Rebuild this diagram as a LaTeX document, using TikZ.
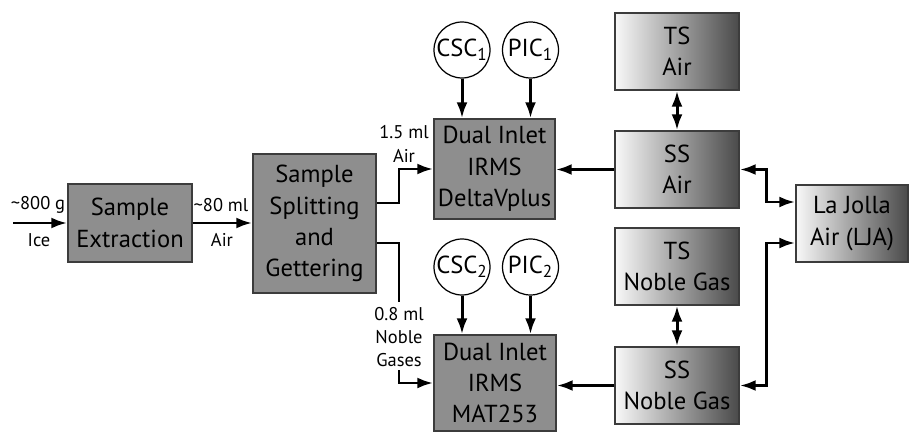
\documentclass[tikz,border=0pt]{standalone}
\usepackage{fontspec}
\setmainfont{PT Sans}
\usepackage{tikz}
\usetikzlibrary{arrows.meta}
\definecolor{boxgray}{HTML}{8E8E8E}
\definecolor{boxline}{HTML}{3C3C3C}
\definecolor{shadelight}{HTML}{F8F8F8}
\definecolor{shadedark}{HTML}{4A4A4A}
\tikzset{
    every node/.style={inner sep=0pt, align=center,
    	font=\fontsize{14}{17.8}\selectfont}
}
\tikzset{
    box/.style={rectangle, draw=boxline, line width=0.85pt, fill=boxgray},
    stdbox/.style={rectangle, draw=boxline, line width=0.85pt,
        left color=shadelight, right color=shadedark,
        minimum width=2.48cm, minimum height=1.54cm},
    ref/.style={circle, draw=black, line width=0.7pt, fill=white,
        minimum size=1.12cm},
    lbl/.style={font=\fontsize{10.5}{13.3}\selectfont}
}
\tikzset{
    line/.style={line width=1.7pt},
    flow/.style={line, -{Latex[length=3.2mm,width=2.2mm]}},
    both/.style={line, {Latex[length=3.2mm,width=2.2mm]}-{Latex[length=3.2mm,width=2.2mm]}}
}

\begin{document}
\begin{tikzpicture}[x=0.02cm, y=-0.02cm]
  \useasboundingbox (0,0) rectangle (909,432);
  \node (extr) [box, minimum width=2.48cm, minimum height=1.56cm] at (130,223) {Sample\\Extraction};
  \node (split) [box, minimum width=2.46cm, minimum height=2.78cm] at (314.5,223.5) {Sample\\Splitting\\and\\Gettering};
  \node (dv) [box, minimum width=2.42cm, minimum height=2cm] at (494.5,169) {Dual Inlet\\IRMS\\DeltaVplus};
  \node (mat) [box, minimum width=2.44cm, minimum height=1.92cm] at (495,383) {Dual Inlet\\IRMS\\MAT253};

  \node (csc1) [ref] at (462,50) {CSC\textsubscript{1}};
  \node (pic1) [ref] at (530.5,50) {PIC\textsubscript{1}};
  \node (csc2) [ref] at (462,267) {CSC\textsubscript{2}};
  \node (pic2) [ref] at (530.5,267) {PIC\textsubscript{2}};

  \node (tsa) [stdbox] at (677,51.5) {TS\\Air};
  \node (ssa) [stdbox] at (677,169.5) {SS\\Air};
  \node (tsn) [stdbox] at (677,266.5) {TS\\Noble Gas};
  \node (ssn) [stdbox] at (677,385.5) {SS\\Noble Gas};
  \node (lja) [stdbox, minimum width=2.24cm] at (852,223.5) {La Jolla\\Air (LJA)};

  \node (ice) [lbl] at (38,205) {\textasciitilde800 g};
  \node (icet) [lbl] at (39,240) {Ice};
  \node (air) [lbl] at (221,205) {\textasciitilde80 ml};
  \node (airt) [lbl] at (222,240) {Air};
  \node (dvin) [lbl] at (404,144) {1.5 ml\\Air};
  \node (matin) [lbl] at (399,337) {0.8 ml\\Noble\\Gases};

  \coordinate (in) at (13,223);
  \coordinate (b1) at (399,203);
  \coordinate (b2) at (399,243);
  \coordinate (b3) at (399,302);
  \coordinate (b4) at (399,370);
  \coordinate (r1) at (766,202);
  \coordinate (r2) at (766,243);

  \draw [flow] (in) -- (extr.west);
  \draw [flow] (extr.east) -- (split.west |- extr.east);
  \draw [flow] (split.east |- b1) -- (b1) |- (dv.west);
  \draw [line] (split.east |- b2) -| (b3);
  \draw [flow] (b4) |- (mat.west);
  \draw [flow] (csc1) -- (csc1 |- dv.north);
  \draw [flow] (pic1) -- (pic1 |- dv.north);
  \draw [flow] (csc2) -- (csc2 |- mat.north);
  \draw [flow] (pic2) -- (pic2 |- mat.north);
  \draw [flow] (ssa.west) -- (ssa.west -| dv.east);
  \draw [flow] (ssn.west) -- (ssn.west -| mat.east);
  \draw [both] (tsa) -- (ssa);
  \draw [both] (tsn) -- (ssn);
  \draw [both] (ssa.east) -| (r1) -- (r1 -| lja.west);
  \draw [both] (ssn.east) -| (r2) -- (r2 -| lja.west);
\end{tikzpicture}
\end{document}
